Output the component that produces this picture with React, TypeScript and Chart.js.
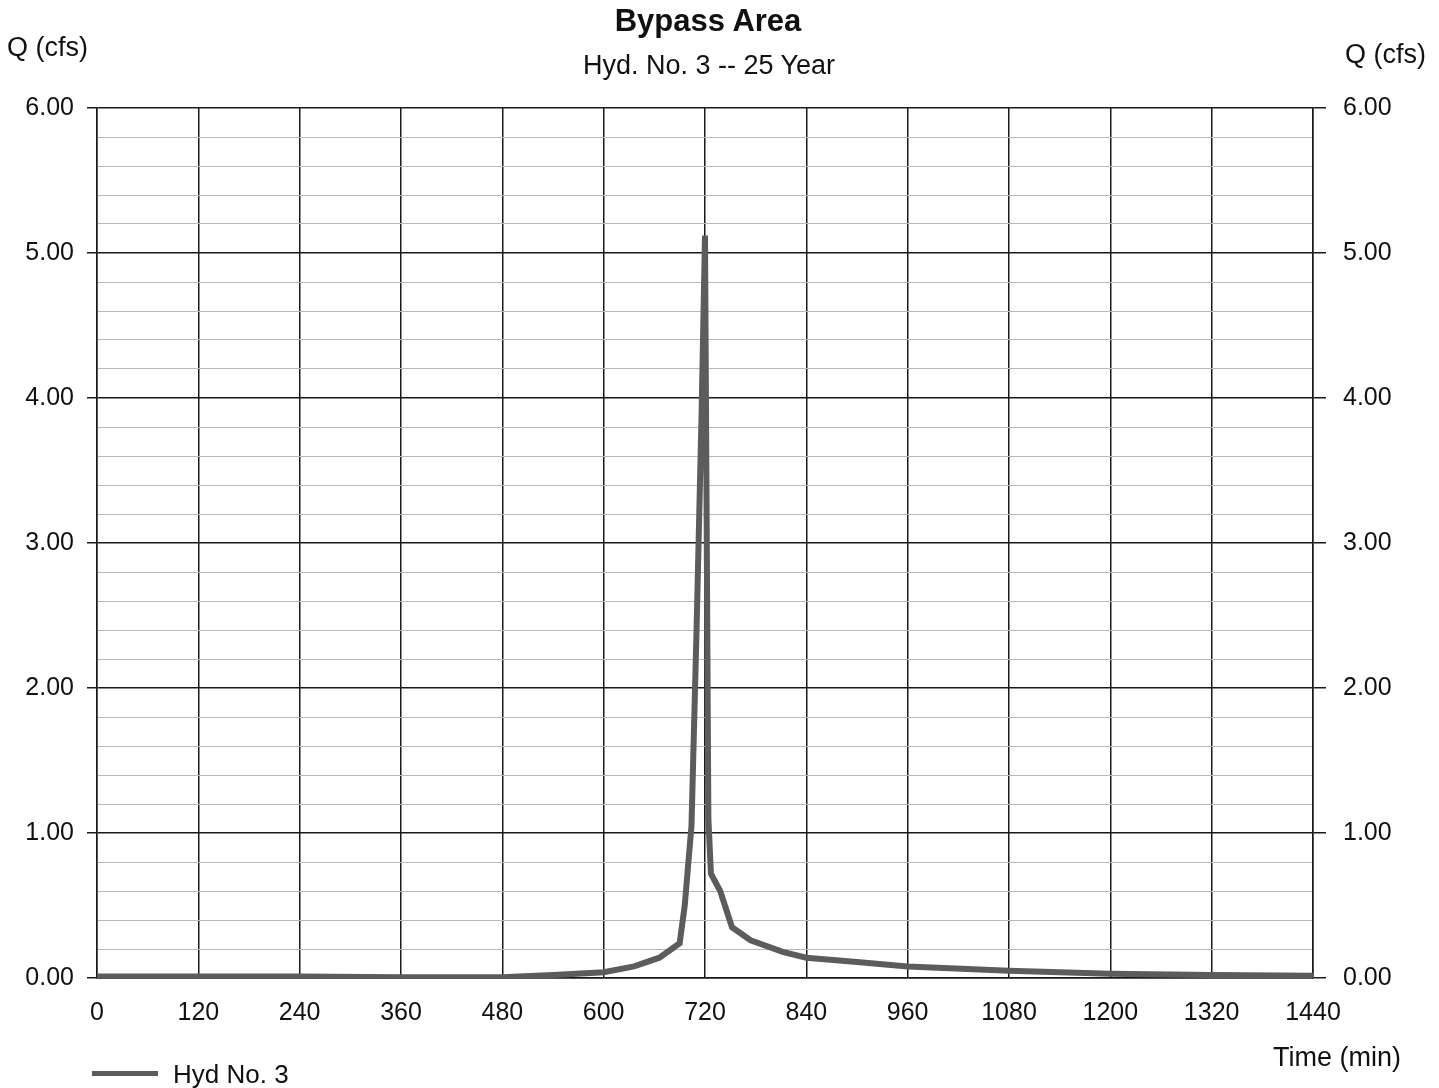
import React, { useEffect, useRef } from "react";
import { Chart, registerables } from "chart.js";

Chart.register(...registerables);

// Hydrograph ordinates: time (min) and discharge (cfs)
const timeMin = [0, 120, 240, 360, 480, 540, 600, 636, 666, 690, 696, 704, 710, 716, 720, 724, 727, 738, 752, 774, 812, 840, 900, 960, 1080, 1200, 1320, 1440];
const flowCfs = [0.01, 0.01, 0.01, 0.005, 0.005, 0.02, 0.04, 0.08, 0.14, 0.24, 0.5, 1.05, 2.4, 3.9, 5.12, 1.1, 0.72, 0.6, 0.35, 0.26, 0.18, 0.14, 0.11, 0.08, 0.05, 0.03, 0.02, 0.015];

const xTicks = [0, 120, 240, 360, 480, 600, 720, 840, 960, 1080, 1200, 1320, 1440];
const yMajorTicks = [0, 1, 2, 3, 4, 5, 6];

const titleText = "Bypass Area";
const subtitleText = "Hyd. No. 3 -- 25 Year";
const seriesName = "Hyd No. 3";

const FONT = '"Liberation Sans", Arial, Helvetica, sans-serif';
const LINE_COLOR = "#5c5c5c";

const isMajor = (v: number) => yMajorTicks.some((m) => Math.abs(m - v) < 1e-6);

export default function App() {
  const canvasRef = useRef<HTMLCanvasElement | null>(null);

  useEffect(() => {
    if (!canvasRef.current) return;
    const points = timeMin.map((t, i) => ({ x: t, y: flowCfs[i] }));

    const yGrid = {
      color: (ctx: any) => (isMajor(ctx.tick.value) ? "#1a1a1a" : "#b8b8b8"),
      lineWidth: (ctx: any) => (isMajor(ctx.tick.value) ? 1.5 : 1),
      tickColor: (ctx: any) => (isMajor(ctx.tick.value) ? "#1a1a1a" : "rgba(0,0,0,0)"),
    };
    const yTickLabel = (v: any) => (isMajor(Number(v)) ? Number(v).toFixed(2) : "");

    const chart = new Chart(canvasRef.current, {
      type: "line",
      data: {
        datasets: [
          {
            label: seriesName,
            data: points,
            borderColor: LINE_COLOR,
            borderWidth: 6,
            pointRadius: 0,
            tension: 0,
            fill: false,
          },
        ],
      },
      options: {
        animation: false,
        responsive: false,
        maintainAspectRatio: false,
        layout: { padding: { top: 108, left: 0, right: 0, bottom: 0 } },
        plugins: {
          legend: { display: false },
          tooltip: { enabled: false },
        },
        scales: {
          x: {
            type: "linear",
            min: 0,
            max: 1440,
            afterBuildTicks: (scale: any) => {
              scale.ticks = xTicks.map((v) => ({ value: v }));
            },
            afterFit: (scale: any) => {
              scale.height = 110;
            },
            grid: { color: "#1a1a1a", lineWidth: 1.5, drawTicks: false },
            border: { color: "#1a1a1a", width: 1.5 },
            ticks: {
              font: { family: FONT, size: 25 },
              color: "#111",
              padding: 20,
              maxRotation: 0,
              autoSkip: false,
              callback: (v: any) => String(v),
            },
          },
          y: {
            position: "left",
            min: 0,
            max: 6,
            afterFit: (scale: any) => {
              scale.width = 97;
            },
            grid: { ...yGrid, tickLength: 10 },
            border: { color: "#1a1a1a", width: 1.5 },
            ticks: {
              stepSize: 0.2,
              font: { family: FONT, size: 25 },
              color: "#111",
              padding: 13,
              autoSkip: false,
              callback: yTickLabel,
            },
          },
          y2: {
            position: "right",
            min: 0,
            max: 6,
            afterFit: (scale: any) => {
              scale.width = 126;
            },
            grid: { ...yGrid, drawOnChartArea: false, tickLength: 13 },
            border: { color: "#1a1a1a", width: 1.5 },
            ticks: {
              stepSize: 0.2,
              font: { family: FONT, size: 25 },
              color: "#111",
              padding: 17,
              autoSkip: false,
              callback: yTickLabel,
            },
          },
        },
      },
    });
    return () => chart.destroy();
  }, []);

  const text = (style: React.CSSProperties): React.CSSProperties => ({
    position: "absolute",
    fontFamily: FONT,
    color: "#111",
    lineHeight: 1,
    whiteSpace: "nowrap",
    ...style,
  });

  return (
    <div
      style={{
        position: "fixed",
        left: 0,
        top: 0,
        width: 1439,
        height: 1088,
        background: "#fff",
        overflow: "hidden",
      }}
    >
      <canvas ref={canvasRef} width={1439} height={1088} style={{ position: "absolute", left: 0, top: 0 }} />
      <div style={text({ left: 708, top: 20, fontSize: 31, fontWeight: "bold", transform: "translate(-50%, -50%)" })}>
        {titleText}
      </div>
      <div style={text({ left: 709, top: 65, fontSize: 27, transform: "translate(-50%, -50%)" })}>
        {subtitleText}
      </div>
      <div style={text({ left: 7, top: 47, fontSize: 27, transform: "translateY(-50%)" })}>Q (cfs)</div>
      <div style={text({ left: 1345, top: 54, fontSize: 27, transform: "translateY(-50%)" })}>Q (cfs)</div>
      <div style={text({ left: 1273, top: 1057, fontSize: 27, transform: "translateY(-50%)" })}>Time (min)</div>
      <div
        style={{
          position: "absolute",
          left: 92,
          top: 1071,
          width: 66,
          height: 5,
          background: LINE_COLOR,
        }}
      />
      <div style={text({ left: 173, top: 1074, fontSize: 26, transform: "translateY(-50%)" })}>{seriesName}</div>
    </div>
  );
}
